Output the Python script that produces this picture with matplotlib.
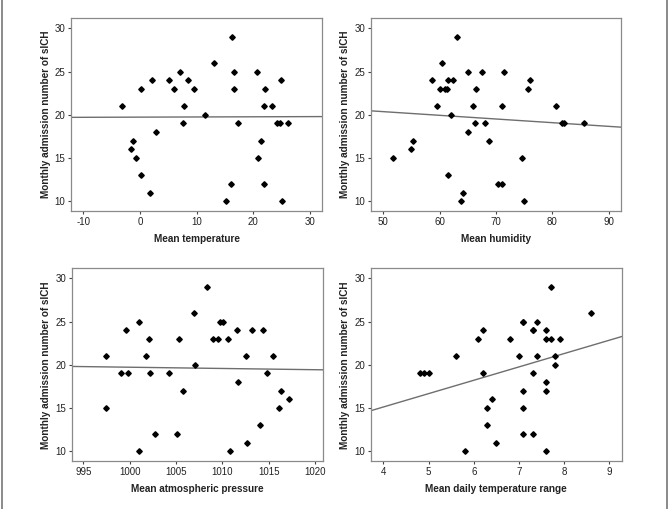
import matplotlib
matplotlib.use("Agg")
import matplotlib.pyplot as plt
from matplotlib.lines import Line2D

plt.rcParams['font.family'] = ['Liberation Sans', 'DejaVu Sans']
plt.rcParams['axes.unicode_minus'] = False

# ---- data ----
temp_x = [-3.1, 0.1, 2.1, -1.2, -1.5, -0.7, 0.1, 1.7, 2.9, 5.1, 6.0, 7.0, 7.7, 7.6, 8.5, 9.6,
          11.5, 13.1, 16.3, 16.6, 16.6, 17.2, 16.1, 15.1, 20.6, 22.1, 21.9, 23.3, 21.4, 20.8,
          21.9, 24.1, 24.7, 26.1, 24.8, 25.1]
temp_y = [21, 23, 24, 17, 16, 15, 13, 11, 18, 24, 23, 25, 21, 19, 24, 23,
          20, 26, 29, 25, 23, 19, 12, 10, 25, 23, 21, 21, 17, 15,
          12, 19, 19, 19, 24, 10]

hum_x = [51.7, 55.0, 55.3, 58.6, 59.5, 60.1, 60.4, 60.9, 61.3, 61.5, 61.5, 62.1, 62.4, 63.0,
         63.7, 64.1, 65.0, 65.0, 65.9, 66.3, 66.4, 67.5, 68.0, 68.8, 70.4, 71.1, 71.0, 71.5,
         74.7, 74.9, 75.6, 76.1, 80.7, 81.8, 82.1, 85.7]
hum_y = [15, 16, 17, 24, 21, 23, 26, 23, 23, 24, 13, 20, 24, 29,
         10, 11, 25, 18, 21, 19, 23, 25, 19, 17, 12, 12, 21, 25,
         15, 10, 23, 24, 21, 19, 19, 19]

pres_x = [997.4, 997.4, 999.1, 999.6, 999.8, 1001.0, 1001.0, 1001.8, 1002.1, 1002.2, 1002.7,
          1004.2, 1005.1, 1005.3, 1005.8, 1006.9, 1007.1, 1008.4, 1009.0, 1009.5, 1009.8,
          1010.1, 1010.6, 1010.8, 1011.6, 1011.7, 1012.6, 1012.7, 1013.2, 1014.1, 1014.4,
          1014.8, 1015.5, 1016.1, 1016.3, 1017.2]
pres_y = [21, 15, 19, 24, 19, 25, 10, 21, 23, 19, 12,
          19, 12, 23, 17, 26, 20, 29, 23, 23, 25,
          25, 23, 10, 24, 18, 21, 11, 24, 13, 24,
          19, 21, 15, 17, 16]

dtr_x = [4.8, 4.9, 5.0, 5.6, 5.8, 6.1, 6.2, 6.2, 6.3, 6.3, 6.4, 6.5, 6.8, 7.0, 7.1, 7.1,
         7.1, 7.1, 7.1, 7.3, 7.3, 7.3, 7.3, 7.4, 7.4, 7.6, 7.6, 7.6, 7.6, 7.6, 7.7, 7.7,
         7.8, 7.8, 7.9, 8.6]
dtr_y = [19, 19, 19, 21, 10, 23, 24, 19, 15, 13, 16, 11, 23, 21, 25, 25,
         17, 15, 12, 24, 24, 19, 12, 25, 21, 24, 23, 18, 17, 10, 29, 23,
         21, 20, 23, 26]

# fitted lines: (intercept, slope)
temp_fit = (19.73, 0.002)
hum_fit = (22.49, -0.0425)
pres_fit = (34.12, -0.0144)
dtr_fit = (8.94, 1.545)

xlabels = ["Mean temperature", "Mean humidity", "Mean atmospheric pressure",
           "Mean daily temperature range"]
ylabel = "Monthly admission number of sICH"
xticks_list = [[-10, 0, 10, 20, 30], [50, 60, 70, 80, 90],
               [995, 1000, 1005, 1010, 1015, 1020], [4, 5, 6, 7, 8, 9]]
yticks = [10, 15, 20, 25, 30]

# ---- layout ----
W, H = 669, 509
fig = plt.figure(figsize=(W / 100, H / 100), dpi=100)
fig.patch.set_facecolor('white')

boxes = [  # left, right, top, bottom in pixels
    (71, 322, 18, 211),
    (370.7, 621.3, 18, 211),
    (71.7, 322.7, 268.3, 461.3),
    (370.7, 622, 268.3, 461.3),
]
xlims = [(-12.17, 32.1), (47.76, 92.24), (993.75, 1020.83), (3.72, 9.28)]
ylims = [(8.88, 31.19), (8.88, 31.19), (8.84, 31.16), (8.84, 31.16)]
xs = [temp_x, hum_x, pres_x, dtr_x]
ys = [temp_y, hum_y, pres_y, dtr_y]
fits = [temp_fit, hum_fit, pres_fit, dtr_fit]

spine_col = '#8a8a8a'
for i in range(4):
    l, r, t, b = boxes[i]
    ax = fig.add_axes([l / W, 1 - b / H, (r - l) / W, (b - t) / H])
    ax.set_xlim(*xlims[i])
    ax.set_ylim(*ylims[i])
    a0, s0 = fits[i]
    x0, x1 = xlims[i]
    ax.plot([x0, x1], [a0 + s0 * x0, a0 + s0 * x1], color='#6e6e6e', lw=1.0, zorder=2)
    ax.plot(xs[i], ys[i], linestyle='none', marker='D', markersize=2.8,
            color='black', zorder=3)
    ax.set_xticks(xticks_list[i])
    ax.set_yticks(yticks)
    for sp in ax.spines.values():
        sp.set_color(spine_col)
        sp.set_linewidth(0.9)
    ax.tick_params(axis='both', direction='out', length=2.5, width=0.8,
                   color='#444444', labelsize=7, pad=1.5, labelcolor='#222222')
    ax.set_xlabel(xlabels[i], fontsize=7.2, fontweight='bold', labelpad=5, color='#222222')
    ax.set_ylabel(ylabel, fontsize=7.2, fontweight='bold', labelpad=3, color='#222222')

# outer frame lines at the left and right edges
fig.add_artist(Line2D([1.5 / W, 1.5 / W], [0, 1], transform=fig.transFigure,
                      color='#777777', lw=1.2))
fig.add_artist(Line2D([667 / W, 667 / W], [0, 1], transform=fig.transFigure,
                      color='#777777', lw=1.2))

fig.savefig("out.png", dpi=100, facecolor='white')
